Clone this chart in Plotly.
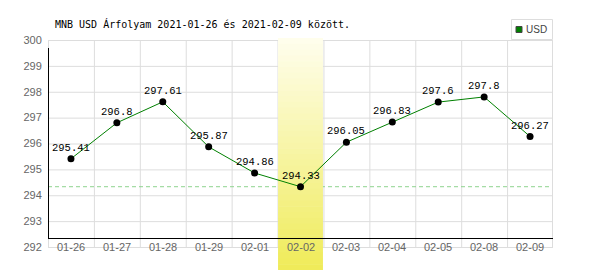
import plotly.graph_objects as go

categories = ["01-26", "01-27", "01-28", "01-29", "02-01", "02-02",
              "02-03", "02-04", "02-05", "02-08", "02-09"]
usd_values = [295.41, 296.8, 297.61, 295.87, 294.86, 294.33,
              296.05, 296.83, 297.6, 297.8, 296.27]
y_ticks = [292, 293, 294, 295, 296, 297, 298, 299, 300]
highlight = "02-02"
title_text = "MNB USD Árfolyam 2021-01-26 és 2021-02-09 között."
series_name = "USD"

# layout geometry (pixels)
W, H = 600, 270
L, R, T, B = 48, 47, 40, 23
PW, PH = W - L - R, H - T - B
ymin, ymax = y_ticks[0], y_ticks[-1]


def px_x(p):
    return (p - L) / PW


def px_y(p):
    return (H - B - p) / PH


def val_y(v):
    return (v - ymin) / (ymax - ymin)


n = len(categories)
shapes = []
grid = "#dddddd"

# horizontal gridlines
for v in y_ticks:
    yy = val_y(v) - 0.5 / PH
    shapes.append(dict(type="line", xref="paper", yref="paper", x0=0, x1=1,
                       y0=yy, y1=yy, line=dict(color=grid, width=1), layer="below"))
# vertical gridlines at category boundaries
for k in range(n + 1):
    xx = k / n + (0.5 if k < n else -0.5) / PW
    shapes.append(dict(type="line", xref="paper", yref="paper", x0=xx, x1=xx,
                       y0=0, y1=1, line=dict(color=grid, width=1), layer="below"))

# dashed minimum line
mn = min(usd_values)
shapes.append(dict(type="line", xref="paper", yref="paper", x0=0, x1=px_x(549),
                   y0=val_y(mn), y1=val_y(mn),
                   line=dict(color="#8fd48f", width=1, dash="4px,3px"), layer="below"))

# highlight band with gradient
hi = categories.index(highlight)
top_px, bot_px = 38, 270
steps = 40
c_top = (255, 254, 238)
c_bot = (239, 235, 88)
for s in range(steps):
    p0 = top_px + (bot_px - top_px) * s / steps
    p1 = top_px + (bot_px - top_px) * (s + 1) / steps + 0.6
    t = (s + 0.5) / steps
    c = tuple(round(a + (b - a) * t) for a, b in zip(c_top, c_bot))
    shapes.append(dict(type="rect", xref="paper", yref="paper",
                       x0=hi / n + 0.5 / PW, x1=(hi + 1) / n - 0.5 / PW,
                       y0=px_y(p1), y1=px_y(p0),
                       fillcolor="rgb(%d,%d,%d)" % c, line=dict(width=0), layer="below"))

# axis lines
ax_y = px_y(238.5)
shapes.append(dict(type="line", xref="paper", yref="paper", x0=0, x1=1,
                   y0=ax_y, y1=ax_y, line=dict(color="black", width=1), layer="below"))
shapes.append(dict(type="line", xref="paper", yref="paper", x0=0.5 / PW, x1=0.5 / PW,
                   y0=ax_y, y1=px_y(48), line=dict(color="black", width=1), layer="below"))

# legend box
shapes.append(dict(type="rect", xref="paper", yref="paper",
                   x0=px_x(511.5), x1=px_x(552.5), y0=px_y(39.5), y1=px_y(19.5),
                   fillcolor="white", line=dict(color="#dddddd", width=1), layer="above"))
shapes.append(dict(type="rect", xref="paper", yref="paper",
                   x0=px_x(516), x1=px_x(522), y0=px_y(32.5), y1=px_y(26.5),
                   fillcolor="#008000", line=dict(color="#444444", width=1), layer="above"))

annotations = []
# data labels
for c, v in zip(categories, usd_values):
    annotations.append(dict(x=c, y=v, xref="x", yref="y", text=str(v), showarrow=False,
                            yshift=11, font=dict(family="Liberation Mono", size=10.5, color="black")))
# x tick labels
for c in categories:
    annotations.append(dict(x=c, y=ymin, xref="x", yref="y", text=c, showarrow=False,
                            yanchor="middle", font=dict(family="Liberation Sans", size=11, color="#666666")))
# title
annotations.append(dict(x=px_x(53), y=px_y(23.5), xref="paper", yref="paper", text=title_text,
                        showarrow=False, xanchor="left", yanchor="middle",
                        font=dict(family="DejaVu Sans Mono", size=10, color="black")))
# legend text
annotations.append(dict(x=px_x(524), y=px_y(29.5), xref="paper", yref="paper", text=series_name,
                        showarrow=False, xanchor="left", yanchor="middle",
                        font=dict(family="Liberation Sans Narrow, Liberation Sans", size=10, color="#444444")))

fig = go.Figure()
fig.add_trace(go.Scatter(x=categories, y=usd_values, mode="lines+markers", name=series_name,
                         line=dict(color="#008000", width=1),
                         marker=dict(color="black", size=7), cliponaxis=False, showlegend=False))

fig.update_layout(
    width=W, height=H, margin=dict(l=L, r=R, t=T, b=B, pad=0),
    paper_bgcolor="white", plot_bgcolor="rgba(0,0,0,0)",
    showlegend=False, shapes=shapes, annotations=annotations,
    xaxis=dict(type="category", range=[-0.5, n - 0.5], showgrid=False, showline=False,
               zeroline=False, showticklabels=False, ticks=""),
    yaxis=dict(range=[ymin, ymax], tickvals=y_ticks, showgrid=False, showline=False,
               zeroline=False, ticks="outside", ticklen=3, tickcolor="rgba(0,0,0,0)",
               tickfont=dict(family="Liberation Sans", size=11, color="#666666")),
)

fig.write_html("out.html")
